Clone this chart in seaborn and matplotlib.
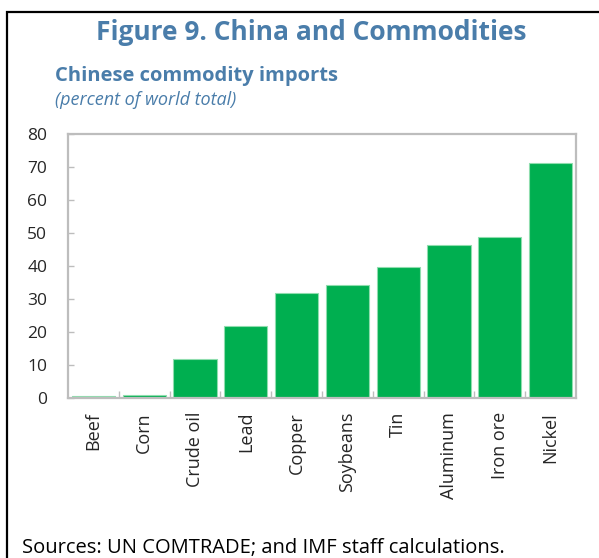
import seaborn as sns
import pandas as pd
import matplotlib.pyplot as plt
from matplotlib.patches import Rectangle
from matplotlib.ticker import FixedLocator

# 数据
commodities = ["Beef", "Corn", "Crude oil", "Lead", "Copper", "Soybeans",
               "Tin", "Aluminum", "Iron ore", "Nickel"]
shares = [0.6, 1.0, 11.7, 21.7, 31.9, 34.2, 39.7, 46.3, 48.8, 71.3]
y_ticks = [0, 10, 20, 30, 40, 50, 60, 70, 80]

df = pd.DataFrame({"commodity": commodities, "share": shares})

sns.set_theme(style="white")
plt.rcParams['font.family'] = ['Open Sans', 'DejaVu Sans']

title_col = "#4A7DAA"
bar_col = "#00AF50"
frame_col = "#BDBDBD"

fig = plt.figure(figsize=(5.99, 5.58), dpi=100)
ax = fig.add_axes([68 / 599, 1 - 398 / 558, (576 - 68) / 599, (398 - 134) / 558])

sns.barplot(data=df, x="commodity", y="share", color=bar_col, width=0.85,
            edgecolor="#8FDDAE", linewidth=0.8, saturation=1, ax=ax)

ax.set_xlim(-0.5, len(commodities) - 0.5)
ax.set_ylim(0, 80)
ax.set_yticks(y_ticks)
ax.set_xlabel("")
ax.set_ylabel("")
for s in ax.spines.values():
    s.set_color(frame_col)
    s.set_linewidth(1.6)

ax.tick_params(axis="y", direction="in", length=4, width=1, color=frame_col,
               labelsize=12.5, pad=15, left=True)
ax.tick_params(axis="x", which="major", length=0, labelsize=13, pad=10,
               labelrotation=90)
ax.xaxis.set_minor_locator(FixedLocator([i + 0.5 for i in range(len(commodities) - 1)]))
ax.tick_params(axis="x", which="minor", direction="in", length=5, width=1,
               color=frame_col, bottom=True)

# 标题
fig.text(311 / 599, 1 - 40 / 558, "Figure 9. China and Commodities",
         ha="center", va="baseline", fontsize=19, fontweight="bold", color=title_col)
fig.text(55 / 599, 1 - 81 / 558, "Chinese commodity imports",
         ha="left", va="baseline", fontsize=14.5, fontweight="bold", color=title_col)
fig.text(55 / 599, 1 - 105 / 558, "(percent of world total)",
         ha="left", va="baseline", fontsize=13, style="italic", color=title_col)
fig.text(22 / 599, 1 - 553 / 558, "Sources: UN COMTRADE; and IMF staff calculations.",
         ha="left", va="baseline", fontsize=14.5, color="black")

# 外框
fig.patches.append(Rectangle((7 / 599, -0.1), 1.2, 1 - 12 / 558 + 0.1,
                             transform=fig.transFigure, fill=False,
                             edgecolor="black", linewidth=1.6))

fig.savefig("out.png", dpi=100)
